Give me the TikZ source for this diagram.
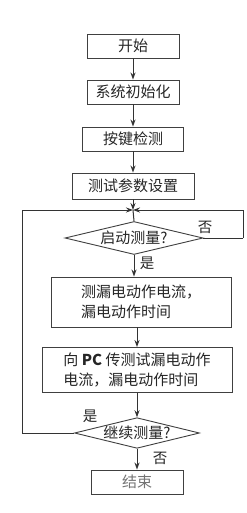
\documentclass[tikz,border=0pt]{standalone}
\usepackage{fontspec}
\setmainfont{Noto Sans CJK SC}
\usetikzlibrary{arrows.meta,shapes.geometric,positioning}

\begin{document}
\begin{tikzpicture}[
  x=1pt,
  y=-1pt,
  every node/.style={font=\fontsize{15}{19.5}\selectfont, text=black!85},
  proc/.style={draw=black!75, line width=0.9pt, minimum width=92pt, minimum height=24pt, inner sep=1pt},
  wide/.style={proc, align=left, minimum width=180pt, minimum height=50pt},
  decide/.style={diamond, draw=black!75, line width=0.9pt, aspect=4, inner sep=0pt, minimum width=138pt, minimum height=33pt},
  lbl/.style={font=\fontsize{14.5}{16}\selectfont, inner sep=0pt},
  flow/.style={-{Stealth[length=7pt,width=5pt]}, line width=1pt, draw=black!80},
  back/.style={line width=1pt, draw=black!80}
]
\useasboundingbox[fill=white] (0,0) rectangle (246,513);

\node[proc] (start) at (133,46) {开始};
\node[proc] (init) at (133,92) {系统初始化};
\node[proc, minimum width=101pt] (keys) at (133,139) {按键检测};
\node[proc, minimum width=122pt, minimum height=26pt] (setup) at (133,186) {测试参数设置};
\coordinate (join) at (133,210);
\node[decide] (q1) at (134,238) {启动测量?};
\node[wide] (meas) at (141,302) {测漏电动作电流，\\漏电动作时间};
\node[wide, minimum width=190pt, minimum height=45pt] (send) at (137,370) {向 \textbf{PC} 传测试漏电动作\\电流，漏电动作时间};
\node[decide, minimum width=125pt, minimum height=29pt] (q2) at (137,433) {继续测量?};
\node[proc] (stop) at (137,482) {\textcolor{black!55}{结束}};
\coordinate (rturn) at (243,238);
\coordinate (lturn) at (22,433);

\node[lbl] (no1) at (205,227) {否};
\node[lbl] (yes1) at (147,263) {是};
\node[lbl] (yes2) at (90,416) {是};
\node[lbl] (no2) at (160,458) {否};

\draw[flow] (start) -- (init);
\draw[flow] (init) -- (keys);
\draw[flow] (keys) -- (setup);
\draw[flow] (setup) -- (join);
\draw[back] (join) -- (q1.north);
\draw[flow] (q1.south) -- (q1.south |- meas.north);
\draw[flow] (send.north |- meas.south) -- (send.north);
\draw[flow] (send) -- (q2);
\draw[flow] (q2) -- (stop);
\draw[back] (q1.east) -- (rturn);
\draw[flow] (rturn) |- (join);
\draw[back] (q2.west) -- (lturn);
\draw[flow] (lturn) |- (join);
\end{tikzpicture}
\end{document}
